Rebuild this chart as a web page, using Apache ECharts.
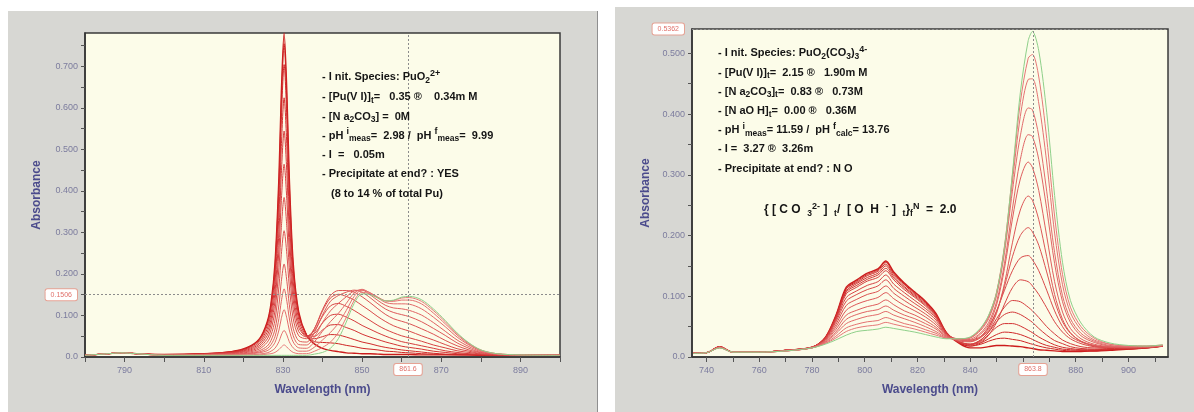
<!DOCTYPE html>
<html><head><meta charset="utf-8">
<script src="https://cdn.jsdelivr.net/npm/echarts@6/dist/echarts.min.js"></script>
<style>
html,body{margin:0;padding:0;background:#fff;width:1194px;height:412px;overflow:hidden;}
#left{position:absolute;left:8px;top:11px;width:590px;height:401px;background:#d7d7d3;border-right:1px solid #8f8f8f;box-sizing:border-box;}
#right{position:absolute;left:615px;top:7px;width:579px;height:405px;background:#d7d7d3;}
</style></head><body>
<div id="left"></div><div id="right"></div>
<script>
// ---------------- LEFT PANEL DATA (PuO2 2+ titration) ----------------
const leftWavelengths = [780, 786, 789, 793, 800, 810, 817, 821, 824, 826, 827, 828, 829, 829.6, 830.3, 831, 831.6, 832.6, 834, 836, 838, 840, 842, 844, 846, 848, 850, 852, 854, 856, 858, 860, 862, 865, 868, 871, 874, 877, 880, 884, 890, 900];
// spectra: first = initial, last = final (green)
const leftSpectra = [
  [.004,.008,.010,.008,.006,.008,.013,.023,.043,.084,.130,.226,.436,.637,.780,.637,.436,.226,.108,.052,.031,.021,.016,.013,.010,.009,.008,.008,.007,.006,.006,.006,.006,.005,.005,.005,.005,.005,.004,.004,.004,.004],
  [.004,.008,.010,.008,.006,.008,.013,.022,.042,.081,.126,.217,.420,.612,.754,.612,.420,.217,.105,.053,.037,.035,.034,.032,.028,.025,.021,.019,.017,.014,.013,.011,.010,.008,.007,.006,.005,.005,.004,.004,.004,.004],
  [.004,.008,.010,.008,.005,.008,.012,.021,.039,.075,.117,.203,.392,.572,.704,.572,.392,.204,.099,.053,.044,.049,.054,.053,.048,.042,.036,.032,.027,.023,.020,.017,.015,.012,.009,.007,.006,.005,.005,.004,.004,.004],
  [.004,.008,.010,.008,.005,.007,.011,.019,.035,.067,.104,.180,.348,.507,.624,.507,.348,.181,.090,.052,.050,.065,.077,.078,.071,.064,.055,.048,.042,.036,.031,.026,.023,.019,.014,.011,.008,.007,.005,.004,.004,.004],
  [.004,.008,.010,.008,.005,.007,.011,.017,.031,.059,.091,.157,.303,.442,.544,.442,.304,.159,.080,.051,.057,.082,.100,.103,.096,.087,.076,.067,.058,.050,.043,.037,.033,.027,.021,.015,.011,.008,.006,.005,.004,.004],
  [.004,.008,.010,.008,.005,.006,.010,.015,.027,.051,.079,.135,.259,.377,.464,.377,.260,.137,.071,.050,.064,.098,.123,.129,.122,.112,.100,.088,.076,.066,.058,.051,.046,.038,.029,.022,.015,.011,.007,.005,.004,.004],
  [.004,.008,.010,.008,.005,.006,.009,.013,.023,.043,.066,.112,.215,.312,.384,.312,.216,.115,.061,.048,.069,.111,.142,.151,.146,.137,.124,.111,.097,.085,.075,.068,.062,.051,.041,.030,.020,.014,.008,.006,.004,.004],
  [.004,.008,.010,.008,.005,.006,.008,.011,.019,.035,.053,.089,.170,.247,.304,.247,.171,.092,.051,.044,.069,.114,.148,.160,.160,.156,.145,.131,.116,.102,.092,.086,.080,.068,.055,.040,.027,.017,.010,.006,.004,.004],
  [.004,.008,.010,.008,.004,.005,.007,.009,.015,.026,.040,.067,.126,.182,.224,.182,.127,.069,.039,.036,.060,.101,.134,.148,.156,.161,.156,.143,.128,.115,.107,.102,.097,.085,.069,.052,.034,.021,.011,.007,.004,.004],
  [.004,.008,.010,.008,.004,.005,.006,.008,.012,.020,.030,.049,.093,.134,.164,.134,.094,.051,.030,.029,.049,.083,.111,.129,.145,.159,.161,.150,.136,.124,.118,.116,.112,.101,.083,.062,.041,.025,.013,.007,.005,.004],
  [.004,.008,.010,.008,.004,.005,.005,.007,.010,.015,.022,.035,.065,.093,.114,.093,.065,.036,.022,.021,.037,.062,.085,.105,.129,.154,.163,.154,.142,.131,.128,.128,.127,.116,.096,.073,.048,.029,.015,.007,.005,.004],
  [.004,.008,.010,.008,.004,.004,.005,.005,.007,.010,.014,.021,.037,.053,.064,.053,.037,.022,.014,.014,.024,.041,.059,.081,.112,.146,.161,.155,.144,.135,.134,.137,.137,.128,.106,.080,.053,.031,.016,.008,.005,.004],
  [.004,.008,.010,.008,.004,.004,.004,.005,.005,.007,.008,.011,.018,.024,.029,.024,.018,.011,.008,.008,.014,.023,.036,.059,.095,.136,.156,.152,.143,.135,.136,.142,.143,.134,.112,.085,.056,.033,.017,.008,.005,.004],
  [.004,.008,.010,.008,.004,.004,.004,.004,.004,.004,.004,.004,.004,.004,.004,.004,.004,.004,.004,.004,.007,.011,.021,.044,.084,.129,.152,.150,.142,.135,.137,.144,.146,.138,.116,.088,.058,.034,.017,.008,.005,.004]
];
const leftXTicks = [780, 790, 800, 810, 820, 830, 840, 850, 860, 870, 880, 890, 900];
const leftXLabels = [790, 810, 830, 850, 870, 890];
const leftYTicks = [0, 0.05, 0.1, 0.15, 0.2, 0.25, 0.3, 0.35, 0.4, 0.45, 0.5, 0.55, 0.6, 0.65, 0.7, 0.75];
const leftYLabels = [0, 0.1, 0.2, 0.3, 0.4, 0.5, 0.6, 0.7];
const leftCursorX = 861.6;
const leftCursorY = 0.1506;

// ---------------- RIGHT PANEL DATA (PuO2(CO3)3 4- titration) ----------------
const rightWavelengths = [735, 740, 745, 750, 760, 770, 780, 785, 789, 793, 797, 801, 805, 808, 811, 815, 819, 823, 827, 831, 836, 840, 844, 847, 850, 853, 856, 859, 862, 863.6, 866, 869, 872, 875, 878, 882, 887, 893, 900, 907, 913];
const rightSpectra = [
  [.006,.007,.017,.008,.008,.011,.016,.032,.068,.115,.127,.138,.145,.158,.140,.122,.107,.092,.072,.040,.022,.015,.015,.017,.019,.019,.018,.017,.015,.014,.012,.011,.010,.009,.009,.009,.010,.011,.013,.015,.018],
  [.006,.007,.017,.008,.008,.011,.016,.032,.067,.113,.125,.136,.143,.156,.138,.120,.106,.091,.071,.040,.023,.018,.021,.026,.030,.031,.029,.027,.023,.021,.018,.015,.013,.011,.010,.010,.010,.012,.013,.015,.018],
  [.006,.007,.017,.008,.008,.011,.016,.032,.066,.112,.123,.134,.141,.153,.136,.119,.104,.090,.070,.040,.023,.018,.023,.030,.037,.041,.040,.037,.032,.029,.024,.019,.016,.013,.012,.011,.011,.012,.013,.015,.018],
  [.006,.007,.017,.008,.008,.011,.016,.031,.065,.109,.121,.131,.138,.150,.133,.116,.102,.088,.069,.039,.024,.020,.026,.037,.049,.055,.055,.051,.044,.040,.033,.026,.020,.016,.014,.012,.012,.013,.014,.015,.018],
  [.006,.007,.017,.008,.008,.011,.016,.031,.064,.107,.118,.128,.135,.146,.130,.114,.100,.086,.068,.039,.025,.021,.028,.041,.058,.070,.074,.070,.062,.057,.047,.036,.027,.022,.017,.014,.013,.014,.014,.016,.018],
  [.006,.007,.017,.008,.008,.011,.016,.030,.062,.104,.115,.125,.131,.142,.127,.111,.098,.084,.066,.039,.025,.021,.028,.042,.063,.082,.093,.091,.082,.076,.065,.050,.038,.028,.022,.017,.015,.015,.015,.016,.019],
  [.006,.007,.017,.008,.008,.011,.016,.030,.060,.098,.109,.118,.124,.135,.120,.106,.093,.080,.064,.038,.024,.021,.024,.036,.057,.087,.114,.127,.124,.117,.103,.081,.058,.041,.030,.022,.017,.016,.016,.016,.019],
  [.006,.007,.016,.008,.008,.011,.016,.029,.057,.092,.103,.111,.117,.127,.113,.100,.088,.076,.061,.037,.029,.028,.034,.050,.076,.110,.142,.163,.167,.160,.142,.110,.076,.050,.034,.025,.018,.016,.016,.017,.019],
  [.006,.007,.016,.008,.008,.011,.016,.028,.053,.085,.095,.103,.108,.117,.105,.093,.082,.071,.057,.036,.028,.026,.033,.048,.075,.116,.165,.200,.213,.206,.184,.140,.092,.058,.039,.026,.019,.016,.015,.016,.019],
  [.006,.007,.016,.008,.008,.011,.016,.027,.049,.077,.087,.093,.098,.106,.096,.085,.076,.066,.053,.035,.026,.025,.032,.045,.072,.121,.188,.242,.265,.258,.226,.165,.103,.062,.040,.026,.019,.016,.016,.016,.018],
  [.006,.007,.016,.008,.008,.010,.015,.026,.045,.069,.077,.083,.087,.094,.086,.076,.069,.060,.049,.034,.028,.027,.038,.053,.086,.146,.227,.293,.321,.312,.274,.199,.124,.074,.047,.030,.021,.017,.016,.017,.019],
  [.006,.007,.016,.008,.008,.010,.015,.025,.041,.062,.070,.075,.078,.084,.077,.069,.063,.055,.046,.033,.028,.029,.040,.057,.091,.154,.244,.325,.366,.363,.325,.244,.154,.091,.057,.035,.024,.018,.017,.017,.019],
  [.006,.007,.016,.008,.008,.010,.015,.024,.038,.055,.062,.067,.070,.075,.069,.063,.057,.050,.042,.032,.029,.031,.044,.063,.101,.172,.273,.364,.410,.407,.364,.273,.172,.101,.063,.039,.026,.019,.017,.017,.019],
  [.006,.007,.015,.008,.008,.010,.015,.023,.034,.048,.054,.058,.060,.065,.061,.055,.051,.045,.039,.031,.030,.032,.046,.066,.105,.179,.288,.396,.457,.458,.418,.321,.204,.119,.073,.045,.028,.021,.018,.018,.019],
  [.006,.007,.015,.008,.008,.010,.015,.022,.031,.042,.048,.051,.053,.057,.054,.050,.046,.041,.036,.031,.030,.032,.047,.068,.107,.183,.299,.419,.492,.498,.461,.360,.232,.136,.082,.050,.031,.021,.018,.018,.020],
  [.006,.007,.015,.008,.008,.010,.015,.021,.028,.036,.042,.044,.046,.049,.047,.044,.041,.037,.033,.030,.030,.033,.048,.069,.106,.181,.302,.435,.521,.536,.504,.403,.266,.156,.093,.056,.033,.023,.019,.018,.020]
];
const rightXTicks = [740, 750, 760, 770, 780, 790, 800, 810, 820, 830, 840, 850, 860, 870, 880, 890, 900, 910];
const rightXLabels = [740, 760, 780, 800, 820, 840, 880, 900];
const rightYTicks = [0, 0.05, 0.1, 0.15, 0.2, 0.25, 0.3, 0.35, 0.4, 0.45, 0.5];
const rightYLabels = [0, 0.1, 0.2, 0.3, 0.4, 0.5];
const rightCursorX = 863.8;
const rightCursorY = 0.5362;

// ---------------- RENDERING ----------------
const FONT = "'Liberation Sans', Arial, sans-serif";
const INK = '#151515';
function richSet(size) {
  return {
    n: {fontSize: size, fontWeight: 'bold', fontFamily: FONT, fill: INK, lineHeight: 16},
    b: {fontSize: 8.5, fontWeight: 'bold', fontFamily: FONT, fill: INK, lineHeight: 9, verticalAlign: 'bottom'},
    p: {fontSize: 9, fontWeight: 'bold', fontFamily: FONT, fill: INK, lineHeight: 9, verticalAlign: 'top'}
  };
}
function anno(x, y, text, size) {
  size = size || 11;
  return {type: 'text', x: x, y: y, silent: true, z: 100,
    style: {text: text, rich: richSet(size), fill: INK, fontSize: size, fontWeight: 'bold', fontFamily: FONT, lineHeight: 16, verticalAlign: 'middle'}};
}
function curveColor(i, n) {
  if (i === n - 1) return '#8fd08a';
  const t = i / Math.max(1, n - 2);
  const r = Math.round(204 + 26 * t), g = Math.round(28 + 92 * t), b = Math.round(28 + 92 * t);
  return 'rgb(' + r + ',' + g + ',' + b + ')';
}
function fmtY(v) { return Math.abs(v) < 1e-9 ? '0.0' : v.toFixed(3); }
const boxLabel = {
  show: true, color: '#e0706a', fontSize: 7, fontFamily: FONT,
  backgroundColor: '#ffffff', borderColor: '#e6a294', borderWidth: 1, borderRadius: 2, padding: [2, 5]
};
function makeOption(c) {
  const n = c.spectra.length;
  const series = c.spectra.map(function (vals, i) {
    const s = {
      type: 'line', data: c.wavelengths.map(function (w, j) { return [w, vals[j]]; }),
      showSymbol: false, symbol: 'none', smooth: 0.3, silent: true, animation: false,
      lineStyle: {width: i === 0 ? 1.4 : 1, color: curveColor(i, n)}, z: 3
    };
    if (i === n - 1) {
      s.markLine = {
        symbol: 'none', silent: true, animation: false,
        lineStyle: {color: '#8c8c8c', type: [2, 2], width: 1},
        data: [
          {xAxis: c.cursorX, label: Object.assign({}, boxLabel, {position: 'start', distance: 7, formatter: String(c.cursorX)})},
          {yAxis: c.cursorY, label: Object.assign({}, boxLabel, {position: 'start', distance: 8, formatter: String(c.cursorY)})}
        ]
      };
    }
    return s;
  });
  return {
    animation: false,
    grid: Object.assign({show: true, backgroundColor: '#fcfce9', borderColor: '#3a3a3a', borderWidth: 1.5}, c.grid),
    xAxis: {
      type: 'value', min: c.xMin, max: c.xMax,
      name: 'Wavelength (nm)', nameLocation: 'middle', nameGap: c.xNameGap,
      nameTextStyle: {color: '#4b4b8c', fontSize: 12, fontWeight: 'bold', fontFamily: FONT},
      axisLine: {show: true, onZero: false, lineStyle: {color: '#333', width: 1.5}},
      axisTick: {show: true, customValues: c.xTicks, length: 5, lineStyle: {color: '#555'}},
      axisLabel: {customValues: c.xLabels, color: '#7c7c9e', fontSize: 9, fontFamily: FONT, margin: 9, formatter: function (v) { return String(v); }},
      splitLine: {show: false}
    },
    yAxis: {
      type: 'value', min: 0, max: c.yMax,
      name: 'Absorbance', nameLocation: 'middle', nameGap: c.yNameGap,
      nameTextStyle: {color: '#4b4b8c', fontSize: 12, fontWeight: 'bold', fontFamily: FONT},
      axisLine: {show: true, onZero: false, lineStyle: {color: '#333', width: 1.5}},
      axisTick: {show: true, customValues: c.yTicks, length: 4, lineStyle: {color: '#555'}},
      axisLabel: {customValues: c.yLabels, color: '#7c7c9e', fontSize: 9, fontFamily: FONT, margin: 7, formatter: fmtY},
      splitLine: {show: false}
    },
    series: series,
    graphic: c.annotations
  };
}

const leftChart = echarts.init(document.getElementById('left'), null, {renderer: 'canvas'});
leftChart.setOption(makeOption({
  wavelengths: leftWavelengths, spectra: leftSpectra,
  grid: {left: 77, top: 22, width: 475, height: 324},
  xMin: 780, xMax: 900, yMax: 0.78, xTicks: leftXTicks, xLabels: leftXLabels,
  yTicks: leftYTicks, yLabels: leftYLabels, cursorX: leftCursorX, cursorY: leftCursorY,
  xNameGap: 27, yNameGap: 42,
  annotations: [
    anno(314, 66, '{n|- I nit. Species: PuO}{b|2}{p|2+}'),
    anno(314, 86, '{n|- [Pu(V I)]}{b|t}{n|=   0.35 ®    0.34m M}'),
    anno(314, 105.5, '{n|- [N a}{b|2}{n|CO}{b|3}{n|] =  0M}'),
    anno(314, 124.5, '{n|- pH }{p|i}{b|meas}{n|=  2.98 /  pH }{p|f}{b|meas}{n|=  9.99}'),
    anno(314, 144, '{n|- I  =   0.05m}'),
    anno(314, 163, '{n|- Precipitate at end? : YES}'),
    anno(323, 182.5, '{n|(8 to 14 % of total Pu)}')
  ]
}));

const rightChart = echarts.init(document.getElementById('right'), null, {renderer: 'canvas'});
rightChart.setOption(makeOption({
  wavelengths: rightWavelengths, spectra: rightSpectra,
  grid: {left: 77, top: 22, width: 476, height: 328},
  xMin: 734.5, xMax: 915, yMax: 0.54, xTicks: rightXTicks, xLabels: rightXLabels,
  yTicks: rightYTicks, yLabels: rightYLabels, cursorX: rightCursorX, cursorY: rightCursorY,
  xNameGap: 27, yNameGap: 40,
  annotations: [
    anno(103, 46, '{n|- I nit. Species: PuO}{b|2}{n|(CO}{b|3}{n|)}{b|3}{p|4-}'),
    anno(103, 65.5, '{n|- [Pu(V I)]}{b|t}{n|=  2.15 ®   1.90m M}'),
    anno(103, 84.5, '{n|- [N a}{b|2}{n|CO}{b|3}{n|]}{b|t}{n|=  0.83 ®   0.73M}'),
    anno(103, 104, '{n|- [N aO H]}{b|t}{n|=  0.00 ®   0.36M}'),
    anno(103, 123, '{n|- pH }{p|i}{b|meas}{n|= 11.59 /  pH }{p|f}{b|calc}{n|= 13.76}'),
    anno(103, 142, '{n|- I =  3.27 ®  3.26m}'),
    anno(103, 162, '{n|- Precipitate at end? : N O}'),
    anno(149, 203, '{n|{ [ C O  }{b|3}{p|2-}{n| ]  }{b|t}{n|/  [ O  H  }{p|-}{n| ]  }{b|t}}{b|f}{p|N}{n|  =  2.0}', 12)
  ]
}));
</script>
</body></html>
